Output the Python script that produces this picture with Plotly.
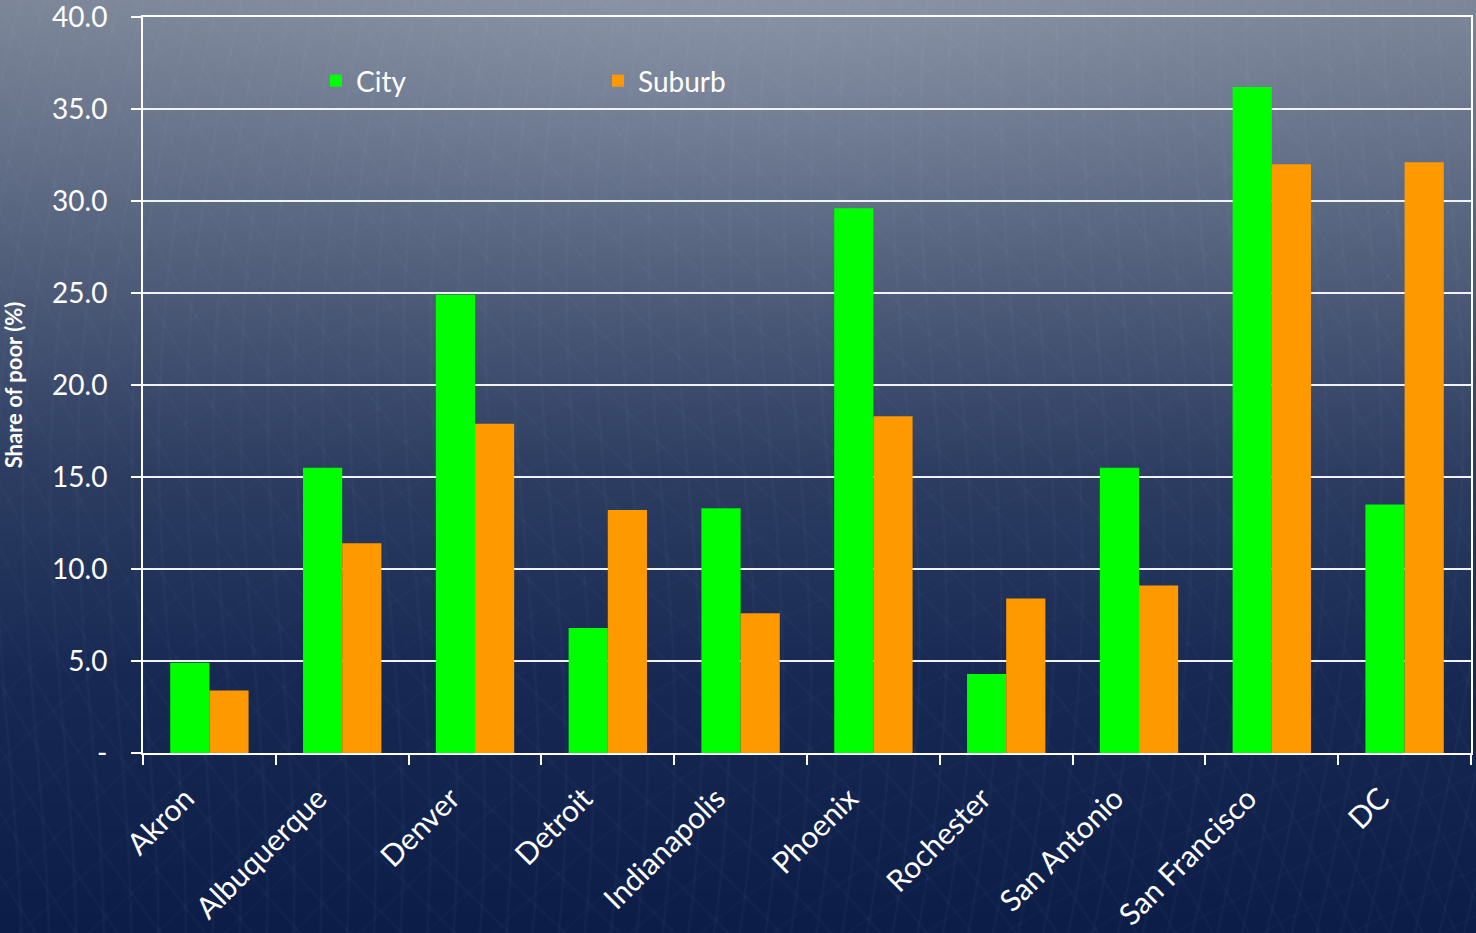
import base64
import struct
import zlib

import numpy as np
import plotly.graph_objects as go

# Share of poor living in city vs. suburb, by metro area
cities = ["Akron", "Albuquerque", "Denver", "Detroit", "Indianapolis",
          "Phoenix", "Rochester", "San Antonio", "San Francisco", "DC"]
city_share = [4.9, 15.5, 24.9, 6.8, 13.3, 29.6, 4.3, 15.5, 36.2, 13.5]
suburb_share = [3.4, 11.4, 17.9, 13.2, 7.6, 18.3, 8.4, 9.1, 32.0, 32.1]

y_tickvals = [0, 5, 10, 15, 20, 25, 30, 35, 40]
y_ticktext = ["-", "5.0", "10.0", "15.0", "20.0", "25.0", "30.0", "35.0", "40.0"]

W, H = 1476, 933
L, R, T, B = 143, 5, 17, 180
FONT = "Lato"


def png_uri(rgb):
    """Encode an HxWx3 uint8 array as a PNG data URI."""
    h, w, _ = rgb.shape
    raw = b"".join(b"\x00" + rgb[i].tobytes() for i in range(h))

    def chunk(tag, data):
        c = struct.pack(">I", len(data)) + tag + data
        return c + struct.pack(">I", zlib.crc32(tag + data) & 0xFFFFFFFF)

    png = (b"\x89PNG\r\n\x1a\n"
           + chunk(b"IHDR", struct.pack(">IIBBBBB", w, h, 8, 2, 0, 0, 0))
           + chunk(b"IDAT", zlib.compress(raw, 9))
           + chunk(b"IEND", b""))
    return "data:image/png;base64," + base64.b64encode(png).decode()


def line_family(px, py, angle, spacing, warp_amp, warp_freq, width=0.9):
    """Soft thin lines along a direction, bent by a sine warp."""
    a = np.deg2rad(angle)
    proj = px * np.cos(a) + py * np.sin(a)
    along = -px * np.sin(a) + py * np.cos(a)
    v = (proj + warp_amp * np.sin(along * warp_freq + proj * 0.002)) / spacing
    d = np.abs(v - np.round(v)) * spacing
    return np.exp(-(d ** 2) / (2 * width ** 2))


# Slate-to-navy backdrop with a soft highlight near the top
yy, xx = np.mgrid[0:H, 0:W].astype(float)
gy = yy / (H - 1)
gx = xx / (W - 1)
stops = np.array([0.0, 0.25, 0.5, 0.72, 1.0])
cols = np.array([[124, 134, 152], [86, 99, 126], [46, 62, 98],
                 [24, 42, 84], [12, 30, 72]], dtype=float)
img = np.stack([np.interp(gy[:, 0], stops, cols[:, k]) for k in range(3)], axis=-1)
img = np.repeat(img[:, None, :], W, axis=1)
glow = 14 * np.exp(-(((gx - 0.5) ** 2) / 0.12 + (gy ** 2) / 0.08))
img = img + glow[..., None]

# faint woven line texture
tex = (0.6 * line_family(xx, yy, 5, 26, 40, 0.004)
       + 0.5 * line_family(xx, yy, -35, 34, 60, 0.003)
       + 0.35 * line_family(xx, yy, 55, 44, 30, 0.005))
weight = 5 + 8 * gy
img = img + (tex * weight)[..., None] * np.array([0.8, 0.9, 1.0])
bg = np.clip(img, 0, 255).astype(np.uint8)

fig = go.Figure()
fig.add_trace(go.Bar(x=cities, y=city_share, name="City",
                     marker=dict(color="#00ff00", line=dict(width=0))))
fig.add_trace(go.Bar(x=cities, y=suburb_share, name="Suburb",
                     marker=dict(color="#ff9900", line=dict(width=0))))

pw, ph = W - L - R, H - T - B
fig.add_layout_image(dict(
    source=png_uri(bg), xref="paper", yref="paper",
    x=-(L + 4) / pw, y=1 + (T + 4) / ph, sizex=(W + 8) / pw, sizey=(H + 8) / ph,
    xanchor="left", yanchor="top", sizing="stretch", layer="below"))

fig.update_layout(
    width=W, height=H,
    margin=dict(l=L, r=R, t=T, b=B, pad=0, autoexpand=False),
    paper_bgcolor="#0c1e48", plot_bgcolor="rgba(0,0,0,0)",
    barmode="group", bargap=0.41, bargroupgap=0,
    font=dict(family=FONT, color="white", size=28),
    legend=dict(orientation="h", x=(316 - L) / pw, y=(H - B - 81) / ph,
                xanchor="left", yanchor="middle",
                entrywidth=237, entrywidthmode="pixels",
                bgcolor="rgba(0,0,0,0)", font=dict(size=28, color="white")),
    showlegend=True,
)
fig.update_xaxes(
    type="category", showgrid=False, showline=True, linecolor="white",
    linewidth=2, mirror=True, ticks="outside", ticklen=10, tickwidth=2,
    tickcolor="white", tickson="boundaries", tickangle=-45, automargin=False,
    ticklabelstandoff=14, ticklabelshift=-24, ticklabeloverflow="allow",
    tickfont=dict(size=30, color="white"), zeroline=False)
fig.update_yaxes(
    range=[0, 40], tickvals=y_tickvals, ticktext=y_ticktext, automargin=False,
    showgrid=True, gridcolor="#f2f2f2", gridwidth=1.5,
    showline=True, linecolor="white", linewidth=2, mirror=True,
    ticks="outside", ticklen=10, tickwidth=2, tickcolor="white",
    ticklabelstandoff=18, ticklabeloverflow="allow",
    tickfont=dict(size=28, color="white"), zeroline=False,
    title=dict(text="<b>Share of poor (%)</b>", standoff=26,
               font=dict(size=22, color="white")))

fig.write_html("out.html")
